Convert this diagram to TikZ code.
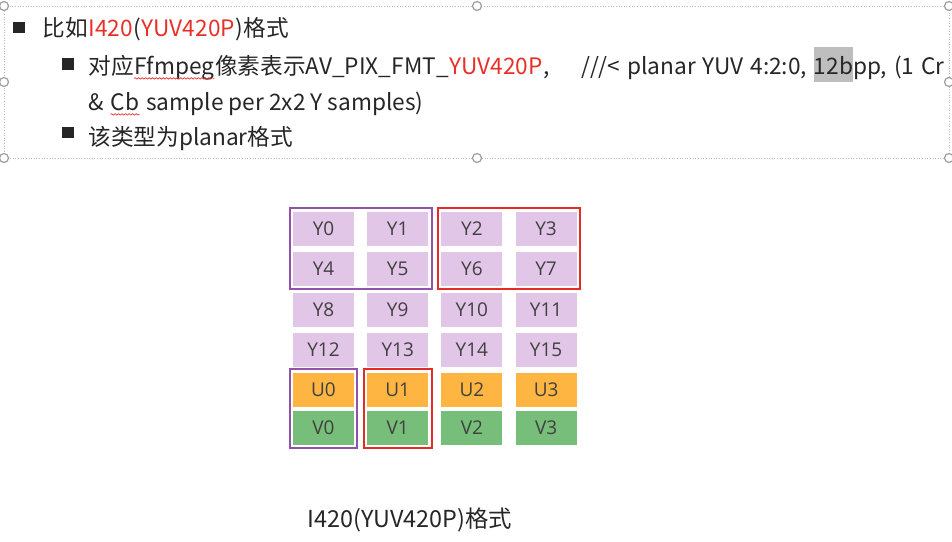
\documentclass[tikz,border=0pt]{standalone}
\usepackage{fontspec}
\setmainfont{Noto Sans CJK SC}
\newfontfamily\cellfont{Open Sans}
\usetikzlibrary{positioning,fit,decorations.pathmorphing}
\definecolor{txtdark}{RGB}{38,38,38}
\definecolor{txtred}{RGB}{232,48,40}
\definecolor{cellY}{RGB}{226,198,231}
\definecolor{cellU}{RGB}{254,181,66}
\definecolor{cellV}{RGB}{118,190,122}
\definecolor{celltext}{RGB}{64,64,64}
\definecolor{grpPurple}{RGB}{145,82,170}
\definecolor{grpRed}{RGB}{228,44,38}
\definecolor{hlgray}{RGB}{190,190,190}
\newlength\hlwd
\newcommand\hlbox[1]{\settowidth{\hlwd}{#1}\rlap{\textcolor{hlgray}{\rule[-4.5pt]{\hlwd}{19.8pt}}}#1}
\tikzset{
  ycell/.style={rectangle, fill=cellY, minimum width=1.22cm, minimum height=0.68cm,
                inner sep=0pt, text=celltext, font=\cellfont\fontsize{10.8}{12}\selectfont},
  ucell/.style={ycell, fill=cellU},
  vcell/.style={ycell, fill=cellV},
  grpP/.style={draw=grpPurple, line width=1.1pt, inner sep=0.06cm},
  grpR/.style={draw=grpRed, line width=1.1pt, inner sep=0.06cm},
  txt/.style={inner sep=0pt, anchor=base west, text=txtdark, font=\fontsize{12.9}{15}\selectfont},
  bullet/.style={rectangle, fill=txtdark, minimum size=0.23cm, inner sep=0pt},
  handle/.style={circle, draw=gray!75, fill=white, line width=0.7pt, minimum size=0.18cm, inner sep=0pt},
  selframe/.style={draw=gray!55, line width=0.5pt, densely dotted},
  squiggle/.style={draw=txtred, line width=0.4pt, decorate,
                   decoration={snake, amplitude=0.4pt, segment length=2pt}},
}
\begin{document}
\begin{tikzpicture}[x=0.02cm, y=-0.02cm]
\useasboundingbox (0,0) rectangle (952,541);
% selected text box
\draw[selframe] (4,6) rectangle (949,158);
\foreach \p [count=\i] in {(4,6),(477,6),(949,6),(4,82),(949,82),(4,158),(477,158),(949,158)}
  \node[handle] (h\i) at \p {};
% bullet lines
\node[bullet] (b1) at (19,27.5) {};
\node[txt] (l1a) at (42,36) {比如};
\node[txt, text=txtred] (l1b) at (l1a.base east) {I420};
\node[txt] (l1c) at (l1b.base east) {(};
\node[txt, text=txtred] (l1d) at (l1c.base east) {YUV420P};
\node[txt] (l1e) at (l1d.base east) {)格式};
\node[bullet] (b2) at (68,64) {};
\node[txt] (l2a) at (88,74) {对应};
\node[txt] (l2ff) at (l2a.base east) {Ffmpeg};
\node[txt] (l2b) at (l2ff.base east) {像素表示AV\_PIX\_FMT\_};
\node[txt, text=txtred] (l2c) at (l2b.base east) {YUV420P};
\node[txt] (l2d) at (l2c.base east) {,\hspace*{18pt}///<\hspace*{0.3em}planar\hspace*{0.3em}YUV\hspace*{0.3em}4:2:0,\hspace*{0.3em}\hlbox{12b}pp,\hspace*{0.3em}(1\hspace*{0.3em}Cr};
\node[txt] (l3a) at (88,110) {\&\hspace*{0.28em}};
\node[txt] (l3cb) at (l3a.base east) {Cb};
\node[txt] (l3b) at (l3cb.base east) {\hspace*{0.28em}sample per 2x2 Y samples)};
\node[bullet] (b3) at (68,132.5) {};
\node[txt] (l4a) at (88,145) {该类型为planar格式};
\draw[squiggle] ([yshift=-2.5pt]l2ff.base west) -- ([yshift=-2.5pt]l2ff.base east);
\draw[squiggle] ([yshift=-2.5pt]l3cb.base west) -- ([yshift=-2.5pt]l3cb.base east);
% Y plane
\foreach \r/\yc in {0/228.5,1/269,2/309.5,3/350}
  \foreach \c in {0,...,3} {
    \pgfmathtruncatemacro\k{4*\r+\c}
    \node[ycell] (y\k) at ({323.5+74.2*\c},\yc) {Y\k};
  }
% U and V planes
\foreach \c in {0,...,3} {
  \node[ucell] (u\c) at ({323.5+74.2*\c},389.5) {U\c};
  \node[vcell] (v\c) at ({323.5+74.2*\c},427.5) {V\c};
}
% sample groups
\node[grpP, fit=(y0)(y5)] (grpY0) {};
\node[grpR, fit=(y2)(y7)] (grpY1) {};
\node[grpP, fit=(u0)(v0)] (grpUV0) {};
\node[grpR, fit=(u1)(v1)] (grpUV1) {};
\node[txt, anchor=base, font=\fontsize{13.3}{15}\selectfont] (cap) at (410,527) {I420(YUV420P)格式};
\end{tikzpicture}
\end{document}
